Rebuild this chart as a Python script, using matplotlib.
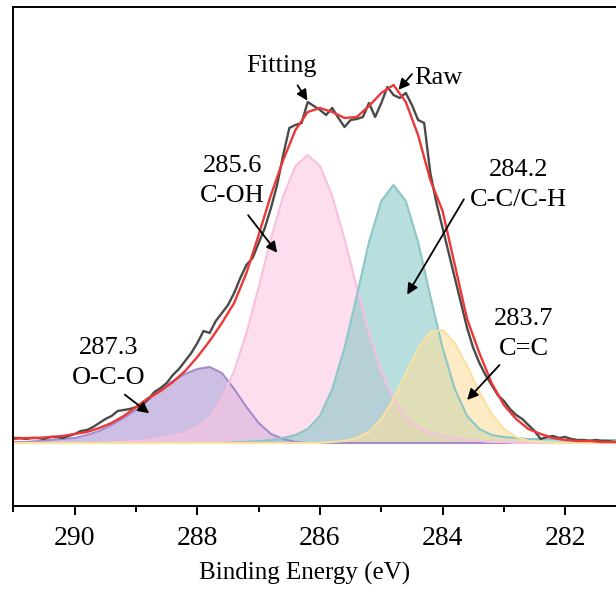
import numpy as np
import matplotlib.pyplot as plt
from matplotlib.ticker import MultipleLocator

plt.rcParams['font.family'] = ['Liberation Serif', 'DejaVu Serif']

# binding energy grids (eV)
energy = np.linspace(291, 281, 51)       # fitted peaks + envelope, 0.2 eV step
energy_raw = np.linspace(291, 281, 101)  # measured spectrum, 0.1 eV step

# measured C 1s spectrum (a.u.)
raw = [5, 5, 4, 5, 5, 4, 6, 6, 5, 7,
       9, 12, 13, 16, 20, 24, 27, 32, 33, 34,
       36, 38, 44, 51, 55, 60, 68, 74, 82, 90,
       100, 112, 110, 122, 130, 138, 150, 165, 178, 185,
       200, 215, 235, 258, 288, 315, 318, 320, 341, 337,
       333, 328, 335, 325, 316, 323, 324, 326, 340, 326,
       340, 356, 348, 345, 350, 338, 323, 320, 270, 240,
       215, 190, 165, 140, 115, 95, 80, 68, 58, 48,
       42, 34, 28, 24, 18, 12, 4, 6, 7, 5,
       6, 4, 3, 3, 2, 3, 2, 2, 1, 1,
       1]

# fitted envelope
fit = [4, 5, 5, 6, 7, 9, 11, 15, 20, 27,
       36, 45, 52, 61, 72, 86, 102, 120, 140, 170,
       208, 248, 283, 313, 331, 335, 331, 325, 326, 337,
       350, 358, 341, 308, 263, 232, 178, 124, 90, 60,
       38, 24, 14, 9, 5, 3, 2, 2, 1, 1,
       1]

# fitted components
oco = [1, 1, 2, 3, 4, 5, 8, 12, 18, 25,
       33, 43, 53, 62, 69, 74, 76, 70, 54, 36,
       20, 9, 4, 1] + [0] * 27
coh = [0, 0, 0, 0, 0, 0, 0, 0, 1, 1,
       2, 3, 5, 7, 10, 16, 25, 44, 72, 110,
       156, 204, 247, 277, 288, 277, 247, 204, 156, 110,
       72, 44, 25, 16, 10, 7, 5, 3, 2, 1,
       1] + [0] * 10
cc = [0] * 18 + [1, 1, 2, 3, 5, 8, 14, 27, 54, 95,
                 147, 201, 242, 258, 242, 201, 147, 95, 54, 27,
                 14, 8, 6, 5, 4, 4, 4, 3, 3, 3,
                 3, 3, 3]
c_eq_c = [0] * 26 + [1, 2, 5, 11, 24, 44, 69, 94, 111, 113,
                     100, 77, 51, 29, 14, 6, 2, 1] + [0] * 7

fig = plt.figure(figsize=(6.16, 5.92), dpi=100)
ax = fig.add_axes([0.0219, 0.1453, 0.9951, 0.8429])

peaks = [(oco, '#ac93d2', '#a48ccd'),
         (coh, '#fac8e3', '#f8c0dd'),
         (cc, '#89c8c8', '#8cc6c6'),
         (c_eq_c, '#fadf9d', '#fae1a0')]
for vals, fc, ec in peaks:
    ax.fill_between(energy, 0, vals, color=fc, alpha=0.6, lw=0)
    ax.plot(energy, vals, color=ec, lw=1.5)

ax.plot(energy_raw, raw, color='#4a4a4a', lw=1.7)
ax.plot(energy, fit, color='#ec3737', lw=1.7)

# labels and arrows
arrow = dict(arrowstyle='-|>', color='black', lw=1.3, mutation_scale=16)
notes = [('Fitting', (286.63, 377), (286.39, 360), (286.18, 340)),
         ('Raw', (284.07, 365), (284.47, 371), (284.75, 351)),
         ('285.6\nC-OH', (287.43, 262), (287.20, 230), (286.67, 188)),
         ('284.2\nC-C/C-H', (282.76, 258), (283.63, 246), (284.60, 146)),
         ('287.3\nO-C-O', (289.45, 80), (289.22, 50), (288.75, 28)),
         ('283.7\nC=C', (282.67, 109), (283.04, 80), (283.63, 41))]
for txt, pos, tail, tip in notes:
    ax.text(pos[0], pos[1], txt, ha='center', va='center', fontsize=19,
            linespacing=1.45)
    ax.annotate('', xy=tip, xytext=tail, arrowprops=arrow)

ax.set_xlim(291, 281)
ax.set_ylim(-63, 436)
ax.xaxis.set_major_locator(MultipleLocator(2))
ax.xaxis.set_minor_locator(MultipleLocator(1))
ax.tick_params(axis='x', which='major', direction='out', length=6.5,
               width=1.4, labelsize=20, pad=8)
ax.tick_params(axis='x', which='minor', direction='out', length=4.3, width=1.4)
ax.set_yticks([])
for s in ax.spines.values():
    s.set_linewidth(1.4)
ax.spines['right'].set_visible(False)
ax.set_xlabel('Binding Energy (eV)', fontsize=18)
ax.xaxis.set_label_coords(0.4755, -0.113)

fig.savefig('out.png', dpi=100)
